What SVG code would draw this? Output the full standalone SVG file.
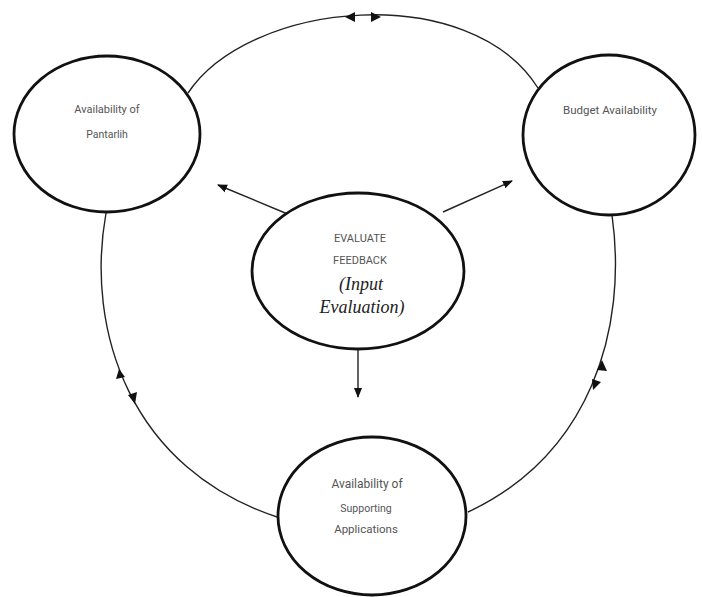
<svg xmlns="http://www.w3.org/2000/svg" width="702" height="597" viewBox="0 0 702 597">
<style>
.node{fill:#fff;stroke:#111;stroke-width:2.8}
.lbl{font-family:Roboto,"Liberation Sans",sans-serif;fill:#555;text-anchor:middle}
.ser{font-family:"Liberation Serif","DejaVu Serif",serif;font-style:italic;fill:#222;text-anchor:middle;font-size:18px}
.con{fill:none;stroke:#222;stroke-width:1.4}
.ah{fill:#111;stroke:none}
</style>
<defs>
<marker id="arr" markerWidth="10" markerHeight="10" refX="9" refY="5" orient="auto" markerUnits="userSpaceOnUse">
<path d="M0,1 L10,5 L0,9 Z" fill="#111"/>
</marker>
</defs>
<rect width="702" height="597" fill="#fff"/>
<g id="connectors">
<path class="con" d="M188 93 C250 0, 470 -20, 538 88"/>
<polygon class="ah" points="345,17 355,12 355,22"/>
<polygon class="ah" points="381,17 371,12 371,22"/>
<path class="con" d="M106 213 C85 330, 130 470, 280 518"/>
<polygon class="ah" points="119,369 116,379 125,377"/>
<polygon class="ah" points="135,404 128,395 137,392"/>
<path class="con" d="M612 215 C628 330, 590 455, 468 512"/>
<polygon class="ah" points="602,360 597,370 607,371"/>
<polygon class="ah" points="593,390 592,379 601,382"/>
<line class="con" x1="290" y1="215" x2="218" y2="185" marker-end="url(#arr)"/>
<line class="con" x1="443" y1="212" x2="512" y2="181" marker-end="url(#arr)"/>
<line class="con" x1="358" y1="350" x2="358" y2="397" marker-end="url(#arr)"/>
</g>
<g id="node-pantarlih">
<ellipse class="node" cx="107" cy="134" rx="93" ry="78"/>
<text class="lbl" x="107" y="113" font-size="11">Availability of</text>
<text class="lbl" x="107" y="138" font-size="10.5">Pantarlih</text>
</g>
<g id="node-budget">
<ellipse class="node" cx="609" cy="135" rx="86" ry="80"/>
<text class="lbl" x="610" y="114" font-size="11.5">Budget Availability</text>
</g>
<g id="node-evaluate">
<ellipse class="node" cx="358" cy="271" rx="106" ry="78"/>
<text class="lbl" x="360" y="242" font-size="11">EVALUATE</text>
<text class="lbl" x="360" y="264" font-size="11">FEEDBACK</text>
<text class="ser" x="361" y="290">(Input</text>
<text class="ser" x="362" y="313">Evaluation)</text>
</g>
<g id="node-supporting">
<ellipse class="node" cx="372" cy="516" rx="94" ry="79"/>
<text class="lbl" x="367" y="488" font-size="12">Availability of</text>
<text class="lbl" x="366" y="512" font-size="10.5">Supporting</text>
<text class="lbl" x="366" y="533" font-size="11.5">Applications</text>
</g>
</svg>
